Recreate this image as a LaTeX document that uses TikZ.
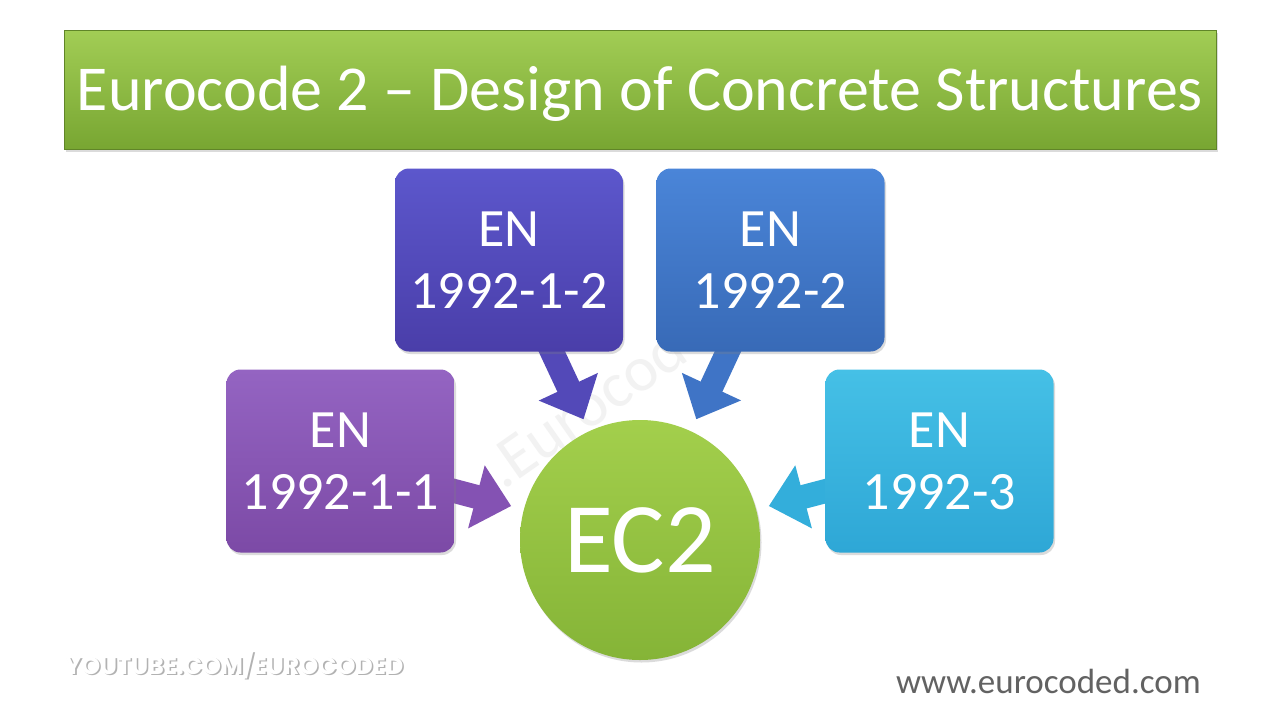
\documentclass[tikz,border=0pt]{standalone}
\usepackage{fontspec}
\setmainfont{Carlito}
\newfontfamily\ytfont{Poppins}
\usetikzlibrary{arrows.meta,shadows}
\pgfdeclarelayer{bg}
\pgfdeclarelayer{arrowlayer}
\pgfsetlayers{bg,arrowlayer,main}
\definecolor{titletop}{HTML}{A2CD55}
\definecolor{titlebot}{HTML}{78A632}
\definecolor{ctwtop}{HTML}{5C57CC}
\definecolor{ctwbot}{HTML}{4A3EA9}
\definecolor{cbltop}{HTML}{4A85D8}
\definecolor{cblbot}{HTML}{386AB7}
\definecolor{cputop}{HTML}{9464C2}
\definecolor{cpubot}{HTML}{7C4AA6}
\definecolor{ccytop}{HTML}{45C0E6}
\definecolor{ccybot}{HTML}{2EA7D6}
\definecolor{cgrtop}{HTML}{A3CF4C}
\definecolor{cgrbot}{HTML}{85B437}
\definecolor{atw}{HTML}{5349B8}
\definecolor{abl}{HTML}{3F74C6}
\definecolor{apu}{HTML}{8452B3}
\definecolor{acy}{HTML}{33AEDB}
\definecolor{urlgray}{HTML}{626262}
\begin{document}
\begin{tikzpicture}[x=1pt,y=-1pt,
  softshadow/.style={drop shadow={opacity=0.28,shadow xshift=1.5pt,shadow yshift=-2.5pt}},
  titlebar/.style={softshadow,draw=titlebot!80!black,line width=0.6pt,top color=titletop,bottom color=titlebot,
     minimum width=1152pt,minimum height=119pt,inner sep=0pt,text=white,text height=41pt,text depth=0pt,
     font=\fontsize{64}{70}\selectfont},
  enbox/.style={softshadow,rounded corners=14pt,minimum width=228pt,minimum height=183pt,inner sep=0pt,
     align=center,text=white,font=\fontsize{54}{62}\selectfont},
  blockarrow/.style={line width=24pt,-{Triangle[width=63pt,length=36pt]},shorten >=13pt},
]
\useasboundingbox (0,0) rectangle (1280,720);
\begin{pgfonlayer}{bg}
  \fill[white] (0,0) rectangle (1280,720);
  \node[rotate=35,anchor=base west,inner sep=0pt,text=black!5,font=\fontsize{64}{70}\selectfont] (wm) at (503,491) {.Eurocod};
\end{pgfonlayer}

\node[titlebar] (title) at (640,89.5) {Eurocode 2 – Design of Concrete Structures};

\node[enbox,top color=ctwtop,bottom color=ctwbot] (b12) at (509,260) {EN\\1992-1-2};
\node[enbox,top color=cbltop,bottom color=cblbot] (b2) at (770.5,260) {EN\\1992-2};
\node[enbox,top color=cputop,bottom color=cpubot] (b11) at (340.5,461) {EN\\1992-1-1};
\node[enbox,top color=ccytop,bottom color=ccybot] (b3) at (939.5,461) {EN\\1992-3};

\node[circle,softshadow,minimum size=240pt,inner sep=0pt,top color=cgrtop,bottom color=cgrbot,
      text=white,font=\fontsize{100}{110}\selectfont] (ec2) at (640,540) {EC2};

\begin{pgfonlayer}{arrowlayer}
  \draw[blockarrow,draw=atw,fill=atw] (b12.center) -- (ec2);
  \draw[blockarrow,draw=abl,fill=abl] (b2.center) -- (ec2);
  \draw[blockarrow,draw=apu,fill=apu] (b11.center) -- (ec2);
  \draw[blockarrow,draw=acy,fill=acy] (b3.center) -- (ec2);
\end{pgfonlayer}

\node[anchor=base west,inner sep=0pt,font=\ytfont\bfseries\fontsize{24}{28}\selectfont] (yt) at (65,674)
  {\rlap{\hspace{1.6pt}\raisebox{-1.6pt}{\textcolor{black!30}{YOUTUBE.COM/EUROCODED}}}\textcolor{white}{YOUTUBE.COM/EUROCODED}};

\node[anchor=base east,text=urlgray,font=\fontsize{35}{40}\selectfont,inner sep=0pt] (url) at (1201,693) {www.eurocoded.com};
\end{tikzpicture}
\end{document}
